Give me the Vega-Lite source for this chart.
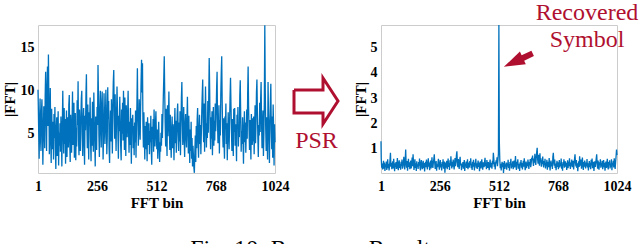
{
"$schema": "https://vega.github.io/schema/vega-lite/v6.json",
"background": "white",
"padding": {"left": 1, "top": 0, "right": 0, "bottom": 0},
"spacing": 0,
"bounds": "flush",
"config": {
  "view": {"stroke": "#cccccc", "strokeWidth": 1},
  "font": "Liberation Serif",
  "axis": {"domain": false, "ticks": false, "grid": false, "labelFont": "Liberation Serif", "labelFontSize": 14, "labelFontWeight": "bold", "labelColor": "#000000", "titleFont": "Liberation Serif", "titleFontSize": 15, "titleFontWeight": "bold", "titleColor": "#000000", "labelFlush": false, "labelOverlap": false},
  "axisX": {"labelPadding": 6, "titlePadding": 2},
  "axisY": {"labelPadding": 4}
},
"title": {"text": "Fig. 10: Recovery Result", "orient": "bottom", "anchor": "middle", "font": "Liberation Serif", "fontSize": 24, "fontWeight": "normal", "color": "#000000", "offset": 26, "dx": -10},
"datasets": {
"fft": [
{"bin":1,"raw":10.1,"psr":1.3},
{"bin":2,"raw":8.7,"psr":0.62},{"bin":4,"raw":5.2,"psr":0.25},{"bin":6,"raw":2.1,"psr":0.41},{"bin":8,"raw":6.8,"psr":0.18},{"bin":10,"raw":9.1,"psr":0.33},{"bin":12,"raw":4.3,"psr":0.52},{"bin":14,"raw":3.0,"psr":0.21},{"bin":16,"raw":7.5,"psr":0.45},{"bin":18,"raw":9.0,"psr":0.12},{"bin":20,"raw":5.6,"psr":0.38},{"bin":22,"raw":1.4,"psr":0.27},{"bin":24,"raw":4.8,"psr":0.49},{"bin":26,"raw":8.2,"psr":0.16},{"bin":28,"raw":6.1,"psr":0.35},{"bin":30,"raw":3.3,"psr":0.58},{"bin":32,"raw":9.4,"psr":0.23},
{"bin":34,"raw":12.2,"psr":0.40},{"bin":36,"raw":7.1,"psr":0.14},{"bin":38,"raw":3.0,"psr":0.31},{"bin":40,"raw":10.5,"psr":0.55},{"bin":42,"raw":12.8,"psr":0.84},{"bin":44,"raw":5.9,"psr":0.29},{"bin":46,"raw":14.2,"psr":0.44},{"bin":48,"raw":8.8,"psr":0.19},{"bin":50,"raw":2.6,"psr":0.36},{"bin":52,"raw":6.3,"psr":0.50},{"bin":54,"raw":10.3,"psr":0.22},{"bin":56,"raw":4.1,"psr":0.60},{"bin":58,"raw":1.6,"psr":0.33},{"bin":60,"raw":7.9,"psr":0.11},{"bin":62,"raw":5.0,"psr":0.42},{"bin":64,"raw":3.2,"psr":0.28},
{"bin":66,"raw":6.4,"psr":0.47},{"bin":68,"raw":2.0,"psr":0.20},{"bin":70,"raw":7.3,"psr":0.37},{"bin":72,"raw":4.5,"psr":0.63},{"bin":74,"raw":8.1,"psr":0.26},{"bin":76,"raw":3.1,"psr":0.15},{"bin":78,"raw":0.9,"psr":0.43},{"bin":80,"raw":5.6,"psr":0.54},{"bin":82,"raw":6.9,"psr":0.24},{"bin":84,"raw":2.4,"psr":0.39},{"bin":86,"raw":4.7,"psr":0.17},{"bin":88,"raw":7.6,"psr":0.48},{"bin":90,"raw":1.3,"psr":0.32},{"bin":92,"raw":5.1,"psr":0.57},{"bin":94,"raw":3.6,"psr":0.21},{"bin":96,"raw":6.2,"psr":0.35},
{"bin":98,"raw":2.9,"psr":0.44},{"bin":100,"raw":7.0,"psr":0.68},{"bin":102,"raw":4.4,"psr":0.30},{"bin":104,"raw":1.2,"psr":0.18},{"bin":106,"raw":6.1,"psr":0.56},{"bin":108,"raw":10.0,"psr":0.97},{"bin":110,"raw":5.3,"psr":0.41},{"bin":112,"raw":2.7,"psr":0.25},{"bin":114,"raw":8.0,"psr":0.51},{"bin":116,"raw":3.8,"psr":0.13},{"bin":118,"raw":6.7,"psr":0.37},{"bin":120,"raw":1.5,"psr":0.60},{"bin":122,"raw":4.9,"psr":0.28},{"bin":124,"raw":7.7,"psr":0.46},{"bin":126,"raw":2.3,"psr":0.19},{"bin":128,"raw":5.8,"psr":0.34},
{"bin":130,"raw":6.9,"psr":0.53},{"bin":132,"raw":3.4,"psr":0.22},{"bin":134,"raw":8.3,"psr":0.40},{"bin":136,"raw":9.5,"psr":0.65},{"bin":138,"raw":4.0,"psr":0.31},{"bin":140,"raw":1.7,"psr":0.78},{"bin":142,"raw":7.2,"psr":0.45},{"bin":144,"raw":5.5,"psr":0.16},{"bin":146,"raw":2.8,"psr":0.36},{"bin":148,"raw":6.3,"psr":0.58},{"bin":150,"raw":9.9,"psr":0.24},{"bin":152,"raw":3.7,"psr":0.42},{"bin":154,"raw":5.0,"psr":0.12},{"bin":156,"raw":8.6,"psr":0.50},{"bin":158,"raw":2.2,"psr":0.29},{"bin":160,"raw":4.6,"psr":0.38},
{"bin":162,"raw":7.4,"psr":0.20},{"bin":164,"raw":1.9,"psr":0.47},{"bin":166,"raw":5.7,"psr":0.33},{"bin":168,"raw":3.5,"psr":0.61},{"bin":170,"raw":8.9,"psr":0.26},{"bin":172,"raw":6.0,"psr":0.14},{"bin":174,"raw":11.1,"psr":0.44},{"bin":176,"raw":4.2,"psr":0.55},{"bin":178,"raw":2.5,"psr":0.30},{"bin":180,"raw":7.8,"psr":0.19},{"bin":182,"raw":5.2,"psr":0.39},{"bin":184,"raw":3.0,"psr":0.52},{"bin":186,"raw":6.6,"psr":0.23},{"bin":188,"raw":9.1,"psr":0.43},{"bin":190,"raw":10.0,"psr":0.10},{"bin":192,"raw":4.8,"psr":0.35},
{"bin":194,"raw":2.4,"psr":0.48},{"bin":196,"raw":6.5,"psr":0.27},{"bin":198,"raw":8.0,"psr":0.57},{"bin":200,"raw":3.9,"psr":0.34},{"bin":202,"raw":1.4,"psr":0.18},{"bin":204,"raw":7.1,"psr":0.41},{"bin":206,"raw":5.4,"psr":0.62},{"bin":208,"raw":9.6,"psr":0.29},{"bin":210,"raw":11.9,"psr":0.45},{"bin":212,"raw":6.2,"psr":0.15},{"bin":214,"raw":3.3,"psr":0.37},{"bin":216,"raw":8.4,"psr":0.53},{"bin":218,"raw":4.6,"psr":0.22},{"bin":220,"raw":2.0,"psr":0.40},{"bin":222,"raw":7.5,"psr":0.66},{"bin":224,"raw":5.9,"psr":0.31},
{"bin":226,"raw":9.2,"psr":0.24},{"bin":228,"raw":4.0,"psr":0.46},{"bin":230,"raw":1.8,"psr":0.59},{"bin":232,"raw":6.8,"psr":0.78},{"bin":234,"raw":3.6,"psr":0.42},{"bin":236,"raw":8.7,"psr":0.20},{"bin":238,"raw":5.1,"psr":0.35},{"bin":240,"raw":2.9,"psr":0.51},{"bin":242,"raw":9.8,"psr":0.13},{"bin":244,"raw":6.4,"psr":0.38},{"bin":246,"raw":4.3,"psr":0.27},{"bin":248,"raw":1.2,"psr":0.44},{"bin":250,"raw":7.0,"psr":0.60},{"bin":252,"raw":5.5,"psr":0.32},{"bin":254,"raw":3.1,"psr":0.17},{"bin":256,"raw":8.1,"psr":0.41},
{"bin":258,"raw":6.0,"psr":0.55},{"bin":260,"raw":13.0,"psr":0.26},{"bin":262,"raw":9.4,"psr":0.39},{"bin":264,"raw":4.7,"psr":0.14},{"bin":266,"raw":2.3,"psr":0.47},{"bin":268,"raw":7.9,"psr":0.30},{"bin":270,"raw":10.0,"psr":0.58},{"bin":272,"raw":5.6,"psr":0.21},{"bin":274,"raw":3.4,"psr":0.36},{"bin":276,"raw":8.5,"psr":0.49},{"bin":278,"raw":9.9,"psr":0.05},{"bin":280,"raw":6.1,"psr":0.34},{"bin":282,"raw":2.0,"psr":0.45},{"bin":284,"raw":4.9,"psr":0.25},{"bin":286,"raw":9.7,"psr":0.52},{"bin":288,"raw":7.2,"psr":0.19},
{"bin":290,"raw":3.8,"psr":0.38},{"bin":292,"raw":5.9,"psr":0.61},{"bin":294,"raw":10.1,"psr":0.28},{"bin":296,"raw":7.3,"psr":0.43},{"bin":298,"raw":2.6,"psr":0.16},{"bin":300,"raw":4.5,"psr":0.54},{"bin":302,"raw":10.4,"psr":0.33},{"bin":304,"raw":6.7,"psr":0.70},{"bin":306,"raw":8.8,"psr":0.40},{"bin":308,"raw":3.2,"psr":0.22},{"bin":310,"raw":1.6,"psr":0.48},{"bin":312,"raw":5.4,"psr":0.29},{"bin":314,"raw":7.7,"psr":0.57},{"bin":316,"raw":4.1,"psr":0.35},{"bin":318,"raw":9.0,"psr":0.18},{"bin":320,"raw":6.3,"psr":0.44},
{"bin":322,"raw":2.7,"psr":0.63},{"bin":324,"raw":8.2,"psr":0.31},{"bin":326,"raw":11.0,"psr":0.50},{"bin":328,"raw":12.4,"psr":0.75},{"bin":330,"raw":7.4,"psr":0.90},{"bin":332,"raw":4.4,"psr":0.46},{"bin":334,"raw":9.6,"psr":0.27},{"bin":336,"raw":5.8,"psr":0.59},{"bin":338,"raw":3.0,"psr":0.37},{"bin":340,"raw":6.9,"psr":0.20},{"bin":342,"raw":10.5,"psr":0.52},{"bin":344,"raw":8.0,"psr":0.68},{"bin":346,"raw":4.8,"psr":0.34},{"bin":348,"raw":2.1,"psr":0.42},{"bin":350,"raw":7.1,"psr":0.15},{"bin":352,"raw":5.3,"psr":0.39},
{"bin":354,"raw":9.3,"psr":0.28},{"bin":356,"raw":6.2,"psr":0.47},{"bin":358,"raw":3.5,"psr":0.21},{"bin":360,"raw":1.9,"psr":0.36},{"bin":362,"raw":7.8,"psr":0.55},{"bin":364,"raw":5.0,"psr":0.12},{"bin":366,"raw":8.6,"psr":0.41},{"bin":368,"raw":4.2,"psr":0.30},{"bin":370,"raw":10.0,"psr":0.49},{"bin":372,"raw":6.6,"psr":0.24},{"bin":374,"raw":3.1,"psr":0.37},{"bin":376,"raw":9.2,"psr":0.58},{"bin":378,"raw":5.7,"psr":0.19},{"bin":380,"raw":2.4,"psr":0.45},{"bin":382,"raw":8.3,"psr":0.32},{"bin":384,"raw":6.0,"psr":0.26},
{"bin":386,"raw":4.6,"psr":0.51},{"bin":388,"raw":7.5,"psr":0.35},{"bin":390,"raw":10.0,"psr":0.62},{"bin":392,"raw":5.2,"psr":0.23},{"bin":394,"raw":2.8,"psr":0.40},{"bin":396,"raw":6.4,"psr":0.16},{"bin":398,"raw":3.7,"psr":0.48},{"bin":400,"raw":8.0,"psr":0.29},{"bin":402,"raw":4.9,"psr":0.56},{"bin":404,"raw":1.5,"psr":0.38},{"bin":406,"raw":6.8,"psr":0.14},{"bin":408,"raw":5.5,"psr":0.44},{"bin":410,"raw":7.2,"psr":0.33},{"bin":412,"raw":3.3,"psr":0.60},{"bin":414,"raw":5.9,"psr":0.25},{"bin":416,"raw":2.5,"psr":0.42},
{"bin":418,"raw":6.3,"psr":0.20},{"bin":420,"raw":4.0,"psr":0.37},{"bin":422,"raw":7.7,"psr":0.53},{"bin":424,"raw":2.2,"psr":0.28},{"bin":426,"raw":5.6,"psr":0.45},{"bin":428,"raw":8.4,"psr":0.11},{"bin":430,"raw":12.6,"psr":0.34},{"bin":432,"raw":7.0,"psr":0.50},{"bin":434,"raw":3.6,"psr":0.22},{"bin":436,"raw":5.1,"psr":0.41},{"bin":438,"raw":9.0,"psr":0.58},{"bin":440,"raw":6.6,"psr":0.30},{"bin":442,"raw":4.3,"psr":0.17},{"bin":444,"raw":8.1,"psr":0.46},{"bin":446,"raw":11.2,"psr":0.36},{"bin":448,"raw":13.6,"psr":0.27},
{"bin":450,"raw":9.8,"psr":0.49},{"bin":452,"raw":13.2,"psr":0.64},{"bin":454,"raw":6.0,"psr":0.31},{"bin":456,"raw":3.4,"psr":0.43},{"bin":458,"raw":7.5,"psr":0.19},{"bin":460,"raw":4.8,"psr":0.55},{"bin":462,"raw":2.0,"psr":0.38},{"bin":464,"raw":5.9,"psr":0.24},{"bin":466,"raw":3.2,"psr":0.47},{"bin":468,"raw":6.4,"psr":0.33},{"bin":470,"raw":4.1,"psr":0.15},{"bin":472,"raw":1.8,"psr":0.40},{"bin":474,"raw":6.9,"psr":0.57},{"bin":476,"raw":5.0,"psr":0.26},{"bin":478,"raw":3.7,"psr":0.44},{"bin":480,"raw":6.2,"psr":0.35},
{"bin":482,"raw":2.6,"psr":0.21},{"bin":484,"raw":5.3,"psr":0.52},{"bin":486,"raw":4.0,"psr":0.39},{"bin":488,"raw":7.1,"psr":0.84},{"bin":490,"raw":3.1,"psr":0.61},{"bin":492,"raw":1.4,"psr":0.29},{"bin":494,"raw":5.8,"psr":0.46},{"bin":496,"raw":4.4,"psr":0.18},{"bin":498,"raw":6.7,"psr":0.37},{"bin":500,"raw":2.9,"psr":0.54},{"bin":502,"raw":7.8,"psr":0.42},{"bin":504,"raw":5.2,"psr":0.66},{"bin":506,"raw":3.5,"psr":0.31},{"bin":508,"raw":6.1,"psr":0.58},{"bin":510,"raw":7.6,"psr":0.80},{"bin":512,"raw":4.7,"psr":5.90},
{"bin":514,"raw":3.2,"psr":1.25},{"bin":516,"raw":5.5,"psr":0.55},{"bin":518,"raw":2.1,"psr":0.23},{"bin":520,"raw":4.3,"psr":0.40},{"bin":522,"raw":6.4,"psr":0.14},{"bin":524,"raw":3.8,"psr":0.36},{"bin":526,"raw":1.7,"psr":0.48},{"bin":528,"raw":4.0,"psr":0.27},{"bin":530,"raw":2.9,"psr":0.44},{"bin":532,"raw":5.1,"psr":0.04},{"bin":534,"raw":3.6,"psr":0.33},{"bin":536,"raw":7.3,"psr":0.51},{"bin":538,"raw":4.5,"psr":0.20},{"bin":540,"raw":6.8,"psr":0.38},{"bin":542,"raw":9.4,"psr":0.29},{"bin":544,"raw":11.5,"psr":0.45},
{"bin":546,"raw":14.0,"psr":0.17},{"bin":548,"raw":9.7,"psr":0.42},{"bin":550,"raw":6.2,"psr":0.30},{"bin":552,"raw":3.5,"psr":0.56},{"bin":554,"raw":7.9,"psr":0.24},{"bin":556,"raw":5.0,"psr":0.39},{"bin":558,"raw":2.4,"psr":0.13},{"bin":560,"raw":8.3,"psr":0.47},{"bin":562,"raw":4.7,"psr":0.35},{"bin":564,"raw":6.6,"psr":0.60},{"bin":566,"raw":9.9,"psr":0.22},{"bin":568,"raw":5.8,"psr":0.41},{"bin":570,"raw":3.1,"psr":0.28},{"bin":572,"raw":7.2,"psr":0.50},{"bin":574,"raw":4.0,"psr":0.19},{"bin":576,"raw":2.2,"psr":0.37},
{"bin":578,"raw":5.4,"psr":0.53},{"bin":580,"raw":7.0,"psr":0.26},{"bin":582,"raw":3.3,"psr":0.44},{"bin":584,"raw":6.1,"psr":0.71},{"bin":586,"raw":4.6,"psr":0.33},{"bin":588,"raw":1.9,"psr":0.16},{"bin":590,"raw":5.7,"psr":0.48},{"bin":592,"raw":8.0,"psr":0.36},{"bin":594,"raw":3.9,"psr":0.58},{"bin":596,"raw":6.5,"psr":0.21},{"bin":598,"raw":2.8,"psr":0.40},{"bin":600,"raw":4.9,"psr":0.30},{"bin":602,"raw":7.4,"psr":0.12},{"bin":604,"raw":8.5,"psr":0.46},{"bin":606,"raw":5.2,"psr":0.34},{"bin":608,"raw":3.0,"psr":0.55},
{"bin":610,"raw":6.3,"psr":0.25},{"bin":612,"raw":4.1,"psr":0.43},{"bin":614,"raw":7.6,"psr":0.18},{"bin":616,"raw":2.5,"psr":0.37},{"bin":618,"raw":5.8,"psr":0.52},{"bin":620,"raw":9.2,"psr":0.29},{"bin":622,"raw":11.0,"psr":0.62},{"bin":624,"raw":6.9,"psr":0.41},{"bin":626,"raw":3.7,"psr":0.15},{"bin":628,"raw":5.0,"psr":0.35},{"bin":630,"raw":8.1,"psr":0.49},{"bin":632,"raw":4.4,"psr":0.23},{"bin":634,"raw":2.3,"psr":0.44},{"bin":636,"raw":6.0,"psr":0.31},{"bin":638,"raw":7.3,"psr":0.57},{"bin":640,"raw":4.8,"psr":0.38},
{"bin":642,"raw":3.4,"psr":0.20},{"bin":644,"raw":6.7,"psr":0.47},{"bin":646,"raw":9.3,"psr":0.34},{"bin":648,"raw":5.6,"psr":0.59},{"bin":650,"raw":2.7,"psr":0.27},{"bin":652,"raw":7.1,"psr":0.42},{"bin":654,"raw":4.2,"psr":0.64},{"bin":656,"raw":1.6,"psr":0.55},{"bin":658,"raw":5.5,"psr":0.73},{"bin":660,"raw":3.0,"psr":0.48},{"bin":662,"raw":6.4,"psr":0.32},{"bin":664,"raw":2.1,"psr":0.61},{"bin":666,"raw":4.5,"psr":0.45},{"bin":668,"raw":1.2,"psr":0.80},{"bin":670,"raw":3.6,"psr":0.52},{"bin":672,"raw":2.4,"psr":0.36},
{"bin":674,"raw":1.0,"psr":0.67},{"bin":676,"raw":0.45,"psr":0.88},{"bin":678,"raw":2.9,"psr":1.04},{"bin":680,"raw":4.8,"psr":0.58},{"bin":682,"raw":1.7,"psr":0.41},{"bin":684,"raw":5.9,"psr":0.76},{"bin":686,"raw":3.3,"psr":0.50},{"bin":688,"raw":6.6,"psr":0.33},{"bin":690,"raw":8.0,"psr":0.82},{"bin":692,"raw":4.1,"psr":0.46},{"bin":694,"raw":2.2,"psr":0.62},{"bin":696,"raw":5.4,"psr":0.29},{"bin":698,"raw":7.2,"psr":0.54},{"bin":700,"raw":3.8,"psr":0.40},{"bin":702,"raw":6.0,"psr":0.69},{"bin":704,"raw":2.6,"psr":0.37},
{"bin":706,"raw":5.0,"psr":0.26},{"bin":708,"raw":7.7,"psr":0.51},{"bin":710,"raw":9.6,"psr":0.35},{"bin":712,"raw":11.3,"psr":0.60},{"bin":714,"raw":6.3,"psr":0.22},{"bin":716,"raw":4.0,"psr":0.44},{"bin":718,"raw":8.5,"psr":0.31},{"bin":720,"raw":2.9,"psr":0.56},{"bin":722,"raw":5.7,"psr":0.17},{"bin":724,"raw":10.5,"psr":0.39},{"bin":726,"raw":7.0,"psr":0.48},{"bin":728,"raw":3.4,"psr":0.27},{"bin":730,"raw":6.2,"psr":0.63},{"bin":732,"raw":4.5,"psr":0.36},{"bin":734,"raw":8.8,"psr":0.14},{"bin":736,"raw":5.1,"psr":0.42},
{"bin":738,"raw":9.1,"psr":0.53},{"bin":740,"raw":13.8,"psr":0.30},{"bin":742,"raw":10.2,"psr":0.45},{"bin":744,"raw":5.5,"psr":0.20},{"bin":746,"raw":3.2,"psr":0.68},{"bin":748,"raw":6.9,"psr":0.84},{"bin":750,"raw":4.4,"psr":0.49},{"bin":752,"raw":7.6,"psr":0.33},{"bin":754,"raw":2.5,"psr":0.57},{"bin":756,"raw":5.8,"psr":0.24},{"bin":758,"raw":8.1,"psr":0.41},{"bin":760,"raw":3.6,"psr":0.15},{"bin":762,"raw":6.5,"psr":0.38},{"bin":764,"raw":4.2,"psr":0.52},{"bin":766,"raw":8.5,"psr":0.28},{"bin":768,"raw":5.3,"psr":0.46},
{"bin":770,"raw":7.4,"psr":0.19},{"bin":772,"raw":10.3,"psr":0.37},{"bin":774,"raw":12.2,"psr":0.55},{"bin":776,"raw":6.0,"psr":0.26},{"bin":778,"raw":3.9,"psr":0.43},{"bin":780,"raw":5.1,"psr":0.32},{"bin":782,"raw":8.3,"psr":0.61},{"bin":784,"raw":2.7,"psr":0.21},{"bin":786,"raw":6.6,"psr":0.40},{"bin":788,"raw":4.8,"psr":0.13},{"bin":790,"raw":9.5,"psr":0.47},{"bin":792,"raw":12.1,"psr":0.34},{"bin":794,"raw":14.0,"psr":0.58},{"bin":796,"raw":8.7,"psr":0.25},{"bin":798,"raw":5.2,"psr":0.39},{"bin":800,"raw":3.4,"psr":0.50},
{"bin":802,"raw":6.8,"psr":0.29},{"bin":804,"raw":4.0,"psr":0.44},{"bin":806,"raw":2.1,"psr":0.16},{"bin":808,"raw":7.0,"psr":0.36},{"bin":810,"raw":5.6,"psr":0.54},{"bin":812,"raw":8.5,"psr":0.23},{"bin":814,"raw":3.8,"psr":0.48},{"bin":816,"raw":6.2,"psr":0.31},{"bin":818,"raw":1.9,"psr":0.62},{"bin":820,"raw":4.9,"psr":0.38},{"bin":822,"raw":7.5,"psr":0.20},{"bin":824,"raw":5.0,"psr":0.45},{"bin":826,"raw":3.2,"psr":0.33},{"bin":828,"raw":6.4,"psr":0.57},{"bin":830,"raw":9.2,"psr":0.27},{"bin":832,"raw":11.5,"psr":0.41},
{"bin":834,"raw":8.3,"psr":0.52},{"bin":836,"raw":5.4,"psr":0.18},{"bin":838,"raw":3.0,"psr":0.39},{"bin":840,"raw":6.7,"psr":0.60},{"bin":842,"raw":4.5,"psr":0.78},{"bin":844,"raw":2.4,"psr":0.46},{"bin":846,"raw":7.9,"psr":0.30},{"bin":848,"raw":5.2,"psr":0.55},{"bin":850,"raw":8.0,"psr":0.24},{"bin":852,"raw":3.6,"psr":0.42},{"bin":854,"raw":6.1,"psr":0.11},{"bin":856,"raw":4.3,"psr":0.35},{"bin":858,"raw":1.8,"psr":0.50},{"bin":860,"raw":7.2,"psr":0.28},{"bin":862,"raw":5.7,"psr":0.70},{"bin":864,"raw":8.1,"psr":0.44},
{"bin":866,"raw":3.5,"psr":0.33},{"bin":868,"raw":6.0,"psr":0.57},{"bin":870,"raw":4.6,"psr":0.21},{"bin":872,"raw":9.4,"psr":0.40},{"bin":874,"raw":11.2,"psr":0.65},{"bin":876,"raw":7.1,"psr":0.36},{"bin":878,"raw":2.9,"psr":0.16},{"bin":880,"raw":5.3,"psr":0.47},{"bin":882,"raw":3.8,"psr":0.29},{"bin":884,"raw":6.9,"psr":0.53},{"bin":886,"raw":4.2,"psr":0.38},{"bin":888,"raw":1.5,"psr":0.22},{"bin":890,"raw":5.6,"psr":0.45},{"bin":892,"raw":7.6,"psr":0.31},{"bin":894,"raw":4.0,"psr":0.59},{"bin":896,"raw":6.3,"psr":0.26},
{"bin":898,"raw":2.8,"psr":0.42},{"bin":900,"raw":5.1,"psr":0.14},{"bin":902,"raw":7.8,"psr":0.37},{"bin":904,"raw":4.4,"psr":0.51},{"bin":906,"raw":9.6,"psr":0.27},{"bin":908,"raw":12.8,"psr":0.44},{"bin":910,"raw":8.2,"psr":0.19},{"bin":912,"raw":5.5,"psr":0.56},{"bin":914,"raw":3.1,"psr":0.34},{"bin":916,"raw":6.6,"psr":0.61},{"bin":918,"raw":4.9,"psr":0.23},{"bin":920,"raw":2.0,"psr":0.39},{"bin":922,"raw":7.3,"psr":0.48},{"bin":924,"raw":5.9,"psr":0.12},{"bin":926,"raw":3.7,"psr":0.35},{"bin":928,"raw":6.8,"psr":0.50},
{"bin":930,"raw":4.1,"psr":0.28},{"bin":932,"raw":7.0,"psr":0.45},{"bin":934,"raw":2.6,"psr":0.62},{"bin":936,"raw":5.7,"psr":0.78},{"bin":938,"raw":8.3,"psr":0.40},{"bin":940,"raw":3.9,"psr":0.21},{"bin":942,"raw":6.2,"psr":0.53},{"bin":944,"raw":9.8,"psr":0.32},{"bin":946,"raw":11.3,"psr":0.17},{"bin":948,"raw":7.5,"psr":0.46},{"bin":950,"raw":4.6,"psr":0.37},{"bin":952,"raw":2.3,"psr":0.58},{"bin":954,"raw":6.0,"psr":0.25},{"bin":956,"raw":4.8,"psr":0.43},{"bin":958,"raw":8.6,"psr":0.30},{"bin":960,"raw":5.2,"psr":0.52},
{"bin":962,"raw":9.0,"psr":0.19},{"bin":964,"raw":11.0,"psr":0.38},{"bin":966,"raw":6.4,"psr":0.55},{"bin":968,"raw":3.3,"psr":0.27},{"bin":970,"raw":5.8,"psr":0.44},{"bin":972,"raw":7.7,"psr":0.13},{"bin":974,"raw":2.4,"psr":0.35},{"bin":976,"raw":4.9,"psr":0.49},{"bin":978,"raw":8.9,"psr":0.24},{"bin":980,"raw":17.6,"psr":0.41},{"bin":982,"raw":10.1,"psr":0.60},{"bin":984,"raw":5.5,"psr":0.31},{"bin":986,"raw":3.0,"psr":0.18},{"bin":988,"raw":6.9,"psr":0.47},{"bin":990,"raw":4.3,"psr":0.36},{"bin":992,"raw":2.0,"psr":0.54},
{"bin":994,"raw":11.0,"psr":0.22},{"bin":996,"raw":7.2,"psr":0.40},{"bin":998,"raw":4.5,"psr":0.29},{"bin":1000,"raw":1.6,"psr":0.58},{"bin":1002,"raw":6.3,"psr":0.15},{"bin":1004,"raw":8.8,"psr":0.43},{"bin":1006,"raw":10.8,"psr":0.34},{"bin":1008,"raw":5.4,"psr":0.52},{"bin":1010,"raw":3.2,"psr":0.26},{"bin":1012,"raw":7.0,"psr":0.62},{"bin":1014,"raw":2.2,"psr":0.39},{"bin":1016,"raw":8.4,"psr":0.20},{"bin":1018,"raw":5.8,"psr":0.48},{"bin":1020,"raw":1.3,"psr":0.70},{"bin":1022,"raw":6.1,"psr":0.97},{"bin":1024,"raw":4.0,"psr":0.75}
]
},
"hconcat": [
{
  "width": 237, "height": 148,
  "data": {"name": "fft"},
  "mark": {"type": "line", "color": "#0072BD", "strokeWidth": 1.3},
  "encoding": {
    "x": {"field": "bin", "type": "quantitative", "scale": {"domain": [1, 1024], "nice": false, "zero": false}, "axis": {"values": [1, 256, 512, 768, 1024], "format": "d", "title": "FFT bin"}},
    "y": {"field": "raw", "type": "quantitative", "scale": {"domain": [0.43, 17.64], "nice": false, "zero": false}, "axis": {"values": [5, 10, 15], "format": "d", "title": "|FFT|", "titlePadding": 3}}
  }
},
{
  "width": 106, "height": 148,
  "view": {"stroke": null},
  "encoding": {
    "x": {"field": "ax", "type": "quantitative", "scale": {"domain": [0, 106], "nice": false, "zero": false}, "axis": null},
    "y": {"field": "ay", "type": "quantitative", "scale": {"domain": [0, 148], "nice": false, "zero": false}, "axis": null}
  },
  "layer": [
    {
      "data": {"values": [
        {"k": 1, "ax": 19, "ay": 83}, {"k": 2, "ax": 48, "ay": 83}, {"k": 3, "ax": 48, "ay": 95}, {"k": 4, "ax": 63, "ay": 72},
        {"k": 5, "ax": 48, "ay": 49}, {"k": 6, "ax": 48, "ay": 60}, {"k": 7, "ax": 19, "ay": 60}, {"k": 8, "ax": 19, "ay": 83}
      ]},
      "mark": {"type": "line", "color": "#b01030", "strokeWidth": 3, "strokeJoin": "miter", "clip": false},
      "encoding": {"order": {"field": "k", "type": "quantitative"}}
    },
    {
      "data": {"values": [{"ax": 41.5, "ay": 25, "label": "PSR"}]},
      "mark": {"type": "text", "font": "Liberation Serif", "fontSize": 24, "color": "#b01030", "align": "center", "baseline": "alphabetic"},
      "encoding": {"text": {"field": "label"}}
    }
  ]
},
{
  "width": 236, "height": 148,
  "encoding": {
    "x": {"field": "bin", "type": "quantitative", "scale": {"domain": [1, 1024], "nice": false, "zero": false}, "axis": {"values": [1, 256, 512, 768, 1024], "format": "d", "title": "FFT bin"}},
    "y": {"field": "psr", "type": "quantitative", "scale": {"domain": [0.04, 5.9], "nice": false, "zero": false}, "axis": {"values": [1, 2, 3, 4, 5], "format": "d", "title": "|FFT|", "titlePadding": 2}}
  },
  "layer": [
    {
      "data": {"name": "fft"},
      "mark": {"type": "line", "color": "#0072BD", "strokeWidth": 1.3}
    },
    {
      "data": {"values": [{"bin": 894, "psr": 6.1, "label": "Recovered"}, {"bin": 894, "psr": 5.03, "label": "Symbol"}]},
      "mark": {"type": "text", "font": "Liberation Serif", "fontSize": 24, "color": "#b01030", "align": "center", "baseline": "alphabetic", "clip": false},
      "encoding": {"text": {"field": "label"}}
    },
    {
      "data": {"values": [{"bin": 596, "psr": 4.51}]},
      "mark": {"type": "point", "shape": "M1,0L-0.32,-0.44L-0.32,-0.19L-1,-0.19L-1,0.19L-0.32,0.19L-0.32,0.44Z", "angle": 155, "size": 1011, "filled": true, "color": "#b01030", "opacity": 1, "strokeWidth": 0}
    }
  ]
}
]
}
